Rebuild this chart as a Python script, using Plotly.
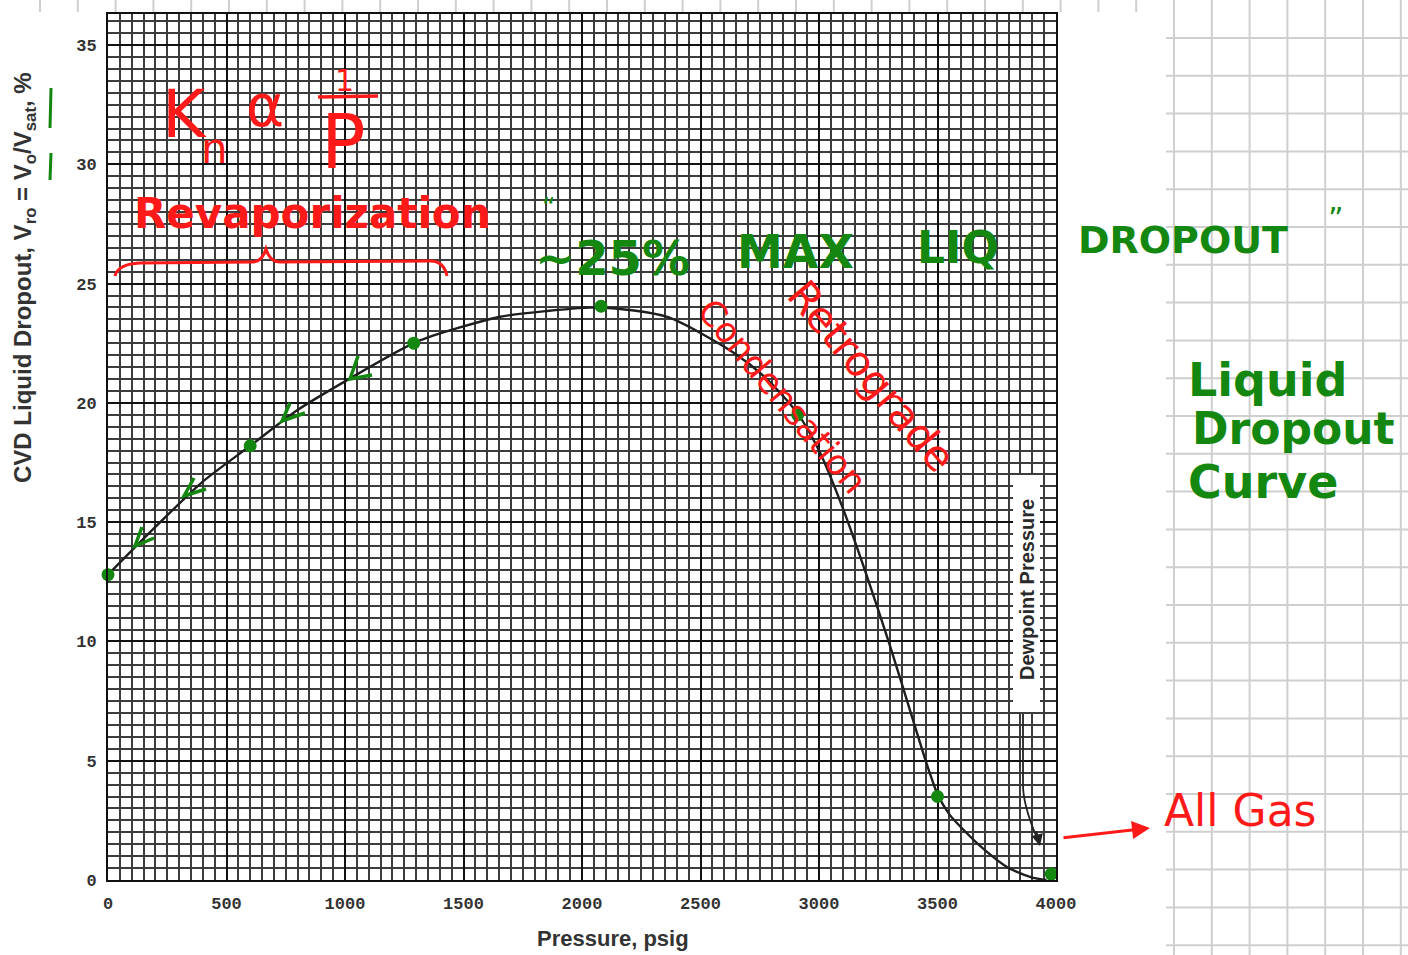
import plotly.graph_objects as go

# CVD liquid dropout curve of a gas condensate (pressure in psig, dropout in %)
pressure = [0, 200, 400, 600, 800, 1000, 1300, 1650, 1850, 2080, 2360, 2640, 2780,
            2910, 3000, 3100, 3200, 3300, 3400, 3450, 3500, 3550, 3600, 3700, 3800, 3900, 3960]
dropout = [12.8, 14.8, 16.7, 18.2, 19.7, 20.9, 22.55, 23.6, 23.85, 24.0, 23.6, 22.1, 21.0,
           19.55, 18.0, 15.6, 12.8, 9.8, 6.6, 5.0, 3.6, 2.75, 2.2, 1.25, 0.5, 0.1, 0.0]

# hand-marked points along the curve
marked_p = [0, 600, 1290, 2080, 2910, 3500, 3980]
marked_v = [12.8, 18.2, 22.5, 24.05, 19.5, 3.5, 0.25]

x_ticks = [0, 500, 1000, 1500, 2000, 2500, 3000, 3500, 4000]
y_ticks = [0, 5, 10, 15, 20, 25, 30, 35]

W, H = 1408, 955
L, R, T, B = 108, 1056, 14, 880
X_MAX, Y_MAX = 4000, 36.3

RED = "#ff1a1a"
GREEN = "#13870f"
HAND = "DejaVu Sans"


def px(xp):
    return (xp - L) / (R - L)


def py(yp):
    return (B - yp) / (B - T)


def dx(xp):
    return (xp - L) / (R - L) * X_MAX


def dy(yp):
    return (B - yp) / (B - T) * Y_MAX


fig = go.Figure()

fig.add_trace(go.Scatter(
    x=pressure, y=dropout, mode="lines",
    line=dict(color="#1e1e1e", width=2.4, shape="spline", smoothing=0.7),
    hoverinfo="skip", showlegend=False,
))
fig.add_trace(go.Scatter(
    x=marked_p, y=marked_v, mode="markers",
    marker=dict(color=GREEN, size=13, line=dict(width=0)),
    cliponaxis=False, hoverinfo="skip", showlegend=False,
))

shapes = []
annotations = []

# notebook grid behind the sheet
step = 37.8
gx = 40.0
while gx < W:
    y_end = H if gx > 1166 else 12
    shapes.append(dict(type="line", xref="paper", yref="paper", layer="below",
                       x0=px(gx), x1=px(gx), y0=py(0), y1=py(y_end),
                       line=dict(color="#cfcfcf", width=2)))
    gx += step
gy = 38.0
while gy < H:
    shapes.append(dict(type="line", xref="paper", yref="paper", layer="below",
                       x0=px(1166), x1=px(W), y0=py(gy), y1=py(gy),
                       line=dict(color="#cfcfcf", width=2)))
    gy += step

# dewpoint label box and arrow
shapes.append(dict(type="rect", xref="x", yref="y", layer="above",
                   x0=dx(1013), x1=dx(1040), y0=dy(712), y1=dy(475),
                   fillcolor="white", line=dict(width=0)))
annotations.append(dict(x=dx(1027), y=dy(590), xref="x", yref="y",
                        text="<b>Dewpoint Pressure</b>",
                        textangle=-90, showarrow=False,
                        font=dict(family="Liberation Sans", size=20, color="#2a2a2a")))
shapes.append(dict(type="path", xref="x", yref="y", layer="above",
                   path=f"M {dx(1023)},{dy(714)} L {dx(1023)},{dy(785)} "
                        f"Q {dx(1023)},{dy(805)} {dx(1037)},{dy(838)}",
                   line=dict(color="#222", width=1.8)))
annotations.append(dict(x=dx(1040), y=dy(846), ax=-4, ay=-16, xref="x", yref="y",
                        text="", showarrow=True, arrowhead=2, arrowsize=1.3,
                        arrowwidth=1.8, arrowcolor="#222"))

# green check-style arrowheads along the curve
for tx, ty, ux, uy, rx, ry in [(135, 546, 142, 527, 154, 538),
                               (184, 496, 194, 478, 206, 489),
                               (282, 421, 290, 403, 305, 413),
                               (350, 379, 358, 356, 372, 375)]:
    shapes.append(dict(type="path", xref="x", yref="y", layer="above",
                       path=f"M {dx(ux)},{dy(uy)} L {dx(tx)},{dy(ty)} L {dx(rx)},{dy(ry)}",
                       line=dict(color=GREEN, width=3.5)))

# green strokes beside the axis title
for y0, y1 in [(88, 128), (153, 180)]:
    shapes.append(dict(type="line", xref="paper", yref="paper", layer="above",
                       x0=px(51), x1=px(50), y0=py(y0), y1=py(y1),
                       line=dict(color=GREEN, width=3)))

# brace under "Revaporization"
pts = [(115, 276), (118, 264), (140, 263), (252, 262), (262, 262), (266, 249),
       (270, 262), (280, 262), (430, 261), (444, 261), (447, 276)]
brace = (f"M {px(pts[0][0])},{py(pts[0][1])} "
         f"Q {px(pts[1][0])},{py(pts[1][1])} {px(pts[2][0])},{py(pts[2][1])} "
         f"L {px(pts[3][0])},{py(pts[3][1])} "
         f"Q {px(pts[4][0])},{py(pts[4][1])} {px(pts[5][0])},{py(pts[5][1])} "
         f"Q {px(pts[6][0])},{py(pts[6][1])} {px(pts[7][0])},{py(pts[7][1])} "
         f"L {px(pts[8][0])},{py(pts[8][1])} "
         f"Q {px(pts[9][0])},{py(pts[9][1])} {px(pts[10][0])},{py(pts[10][1])}")
shapes.append(dict(type="path", xref="paper", yref="paper", layer="above", path=brace,
                   line=dict(color=RED, width=3)))

# fraction bar of 1/P
shapes.append(dict(type="line", xref="paper", yref="paper", layer="above",
                   x0=px(318), x1=px(378), y0=py(97), y1=py(96),
                   line=dict(color=RED, width=3.5)))


def note(xp, yp, text, size, color, angle=0, xanchor="center", family=HAND, bold=False):
    annotations.append(dict(x=px(xp), y=py(yp), xref="paper", yref="paper",
                            text=f"<b>{text}</b>" if bold else text,
                            showarrow=False, textangle=angle, xanchor=xanchor,
                            yanchor="middle",
                            font=dict(family=family, size=size, color=color)))


# red notes
note(184, 114, "K", 66, RED)
note(214, 148, "n", 42, RED)
note(265, 106, "α", 58, RED)
note(344, 80, "1", 30, RED)
note(343, 142, "P", 74, RED)
note(312, 213, "Revaporization", 42, RED, bold=True)
note(872, 376, "Retrograde", 42, RED, angle=50)
note(782, 396, "Condensation", 35, RED, angle=50)
note(1240, 810, "All Gas", 44, RED)
annotations.append(dict(x=px(1150), y=py(828), ax=-88, ay=10, xref="paper", yref="paper",
                        text="", showarrow=True, arrowhead=2, arrowsize=1.2,
                        arrowwidth=3, arrowcolor=RED))

# green notes
note(548, 208, "“", 26, GREEN)
note(612, 258, "~25%", 48, GREEN, bold=True)
note(795, 252, "MAX", 46, GREEN, bold=True)
note(958, 248, "LIQ", 44, GREEN, bold=True)
note(1183, 240, "DROPOUT", 38, GREEN, bold=True)
note(1336, 218, "”", 30, GREEN)
note(1186, 380, "Liquid", 46, GREEN, xanchor="left", bold=True)
note(1190, 428, "Dropout", 44, GREEN, xanchor="left", bold=True)
note(1186, 482, "Curve", 46, GREEN, xanchor="left", bold=True)

# axis titles
note(24, 278, "CVD Liquid Dropout, V<sub>ro</sub> = V<sub>o</sub>/V<sub>sat</sub>, %",
     24, "#333333", angle=-90, family="Liberation Sans", bold=True)
note(613, 938, "Pressure, psig", 22, "#333333", family="Liberation Sans", bold=True)

tick_font = dict(family="Liberation Mono", size=17, color="#333333")

fig.update_layout(
    width=W, height=H,
    margin=dict(l=L, r=W - R, t=T, b=H - B, pad=0),
    paper_bgcolor="white", plot_bgcolor="white",
    showlegend=False,
    shapes=shapes, annotations=annotations,
    xaxis=dict(range=[0, X_MAX], tickvals=x_ticks, ticktext=[f"<b>{v}</b>" for v in x_ticks],
               tickfont=tick_font, ticklabelstandoff=7,
               showgrid=True, gridcolor="#111111", gridwidth=2.2,
               minor=dict(dtick=50, showgrid=True, gridcolor="#3c3c3c", gridwidth=1.7),
               showline=True, linecolor="#111111", linewidth=2, mirror=True,
               zeroline=False, ticks="", fixedrange=True),
    yaxis=dict(range=[0, Y_MAX], tickvals=y_ticks, ticktext=[f"<b>{v}</b>" for v in y_ticks],
               tickfont=tick_font, ticklabelstandoff=6,
               showgrid=True, gridcolor="#111111", gridwidth=2.2,
               minor=dict(dtick=0.5, showgrid=True, gridcolor="#3c3c3c", gridwidth=1.7),
               showline=True, linecolor="#111111", linewidth=2, mirror=True,
               zeroline=False, ticks="", fixedrange=True),
)

fig.write_html("out.html")
